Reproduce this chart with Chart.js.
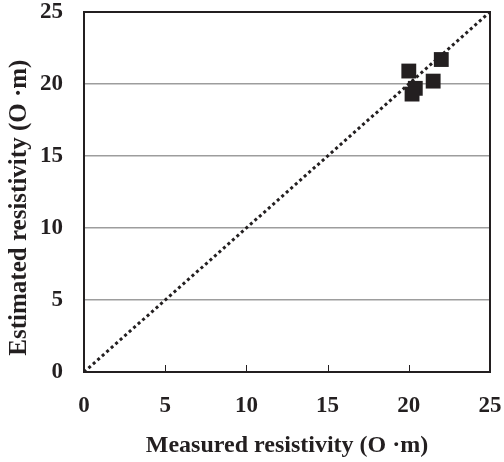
<!DOCTYPE html>
<html>
<head>
<meta charset="utf-8">
<script src="https://cdn.jsdelivr.net/npm/chart.js@4"></script>
<style>
  html, body { margin: 0; padding: 0; background: #fff; }
  #wrap { width: 504px; height: 462px; }
</style>
</head>
<body>
<div id="wrap"><canvas id="chart"></canvas></div>
<script>
// measured vs estimated resistivity (O·m)
const measured = [20.0, 22.0, 21.5, 20.4, 20.2];
const estimated = [20.9, 21.7, 20.2, 19.7, 19.3];
const lineX = [0, 25];
const lineY = [0, 25];
const tickValues = [0, 5, 10, 15, 20, 25];

const font = { family: '"Liberation Serif", "Times New Roman", serif', weight: 'bold' };

// box round the plot and short inward ticks on the x axis
const frame = {
    id: 'frame',
    afterDraw(chart) {
        const { ctx, chartArea: a, scales } = chart;
        ctx.save();
        ctx.strokeStyle = '#231f20';
        ctx.lineWidth = 1;
        ctx.beginPath();
        tickValues.slice(1, -1).forEach(v => {
            const px = Math.round(scales.x.getPixelForValue(v)) + 0.5;
            ctx.moveTo(px, a.bottom);
            ctx.lineTo(px, a.bottom - 7);
        });
        ctx.stroke();
        ctx.lineWidth = 2;
        ctx.strokeRect(a.left, a.top, a.right - a.left, a.bottom - a.top);
        ctx.restore();
    }
};

// labels may hang past the plot edges, as in the original
const noEdgePad = s => { s.paddingTop = 0; s.paddingRight = 0; s.paddingBottom = 0; s.paddingLeft = 0; };

new Chart(document.getElementById('chart'), {
    type: 'scatter',
    data: {
        datasets: [
            {
                type: 'line',
                data: lineX.map((x, i) => ({ x: x, y: lineY[i] })),
                borderColor: '#231f20',
                borderWidth: 3,
                borderDash: [3, 3],
                pointRadius: 0,
                fill: false
            },
            {
                data: measured.map((x, i) => ({ x: x, y: estimated[i] })),
                pointStyle: 'rect',
                pointRadius: 10.5,
                backgroundColor: '#231f20',
                borderColor: '#231f20',
                borderWidth: 0
            }
        ]
    },
    plugins: [frame],
    options: {
        responsive: true,
        maintainAspectRatio: false,
        animation: false,
        layout: { padding: { left: 0, right: 14, top: 12, bottom: 0 } },
        plugins: { legend: { display: false }, tooltip: { enabled: false } },
        scales: {
            x: {
                type: 'linear', min: 0, max: 25,
                afterBuildTicks: s => { s.ticks = tickValues.map(v => ({ value: v })); },
                afterFit: s => { s.height = 90; noEdgePad(s); },
                grid: { display: false, drawTicks: false },
                border: { display: false },
                ticks: { color: '#231f20', padding: 20, font: { ...font, size: 23 } },
                title: { display: true, text: 'Measured resistivity (O ·m)', color: '#231f20',
                         padding: { top: 0, bottom: 2 }, font: { ...font, size: 24 } }
            },
            y: {
                type: 'linear', min: 0, max: 25,
                afterBuildTicks: s => { s.ticks = tickValues.map(v => ({ value: v })); },
                afterFit: s => { s.width = 84; noEdgePad(s); },
                grid: { color: '#9d9d9d', lineWidth: 1.5, drawTicks: false },
                border: { display: false },
                ticks: { color: '#231f20', padding: 21, font: { ...font, size: 23 } },
                title: { display: true, text: 'Estimated resistivity (O ·m)     ', color: '#231f20',
                         padding: { top: 5, bottom: 0 }, font: { ...font, size: 25 } }
            }
        }
    }
});
</script>
</body>
</html>
